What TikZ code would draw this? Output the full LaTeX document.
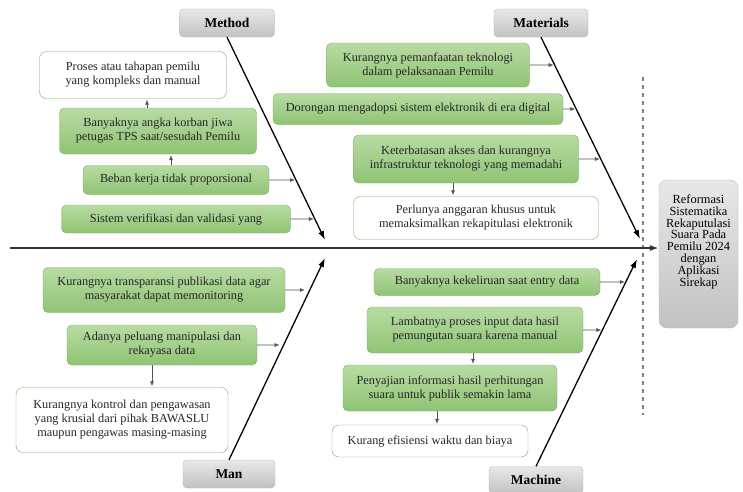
\documentclass[tikz,border=0pt]{standalone}
\usepackage{fontspec}
\setmainfont{Liberation Serif}
\usetikzlibrary{arrows.meta, calc}

\definecolor{leafTop}{RGB}{184,219,163}
\definecolor{leafBot}{RGB}{143,196,116}
\definecolor{leafLine}{RGB}{120,172,92}
\definecolor{twigGray}{RGB}{85,85,85}

\tikzset{
    cause/.style={draw=leafLine, rounded corners=5pt, top color=leafTop, bottom color=leafBot,
        align=center, inner sep=2pt, text=black!85, font=\fontsize{12.3}{14}\selectfont},
    outcome/.style={draw=leafLine, rounded corners=7pt, fill=white,
        align=center, inner sep=2pt, text=black!85, font=\fontsize{12.3}{14}\selectfont},
    category/.style={draw=gray!55, rounded corners=4pt, top color=gray!18, bottom color=gray!48,
        minimum height=28, font=\fontsize{13.5}{15}\selectfont\bfseries},
    bone/.style={-{Latex[length=9pt, width=6pt]}, line width=1.3pt},
    twig/.style={-{Latex[length=5pt, width=4pt]}, draw=twigGray, line width=0.6pt, shorten >=1pt},
}

\begin{document}
\begin{tikzpicture}[x=1pt, y=-1pt]
\useasboundingbox (0,0) rectangle (743,491);

% Head
\node[category, font=\fontsize{12.4}{11.8}\selectfont, align=center, rounded corners=8pt,
    minimum width=79, minimum height=148, text depth=27pt] (head) at (698.5,254)
    {Reformasi\\Sistematika\\Rekaputulasi\\Suara Pada\\Pemilu 2024\\dengan\\Aplikasi\\Sirekap};

% Categories
\node[category, minimum width=95] (method) at (227,23) {Method};
\node[category, minimum width=94] (materials) at (541,23) {Materials};
\node[category, minimum width=92] (man) at (229,474) {Man};
\node[category, minimum width=94, minimum height=27] (machine) at (536,480) {Machine};

% Spine and bones
\coordinate (tail) at (10,248);
\coordinate (mTip) at (325,240);
\coordinate (matTip) at (640,239);
\coordinate (manTip) at (325,258);
\coordinate (macTip) at (637,259);
\coordinate (cutTop) at (643,77);
\coordinate (cutBot) at (643,415);

\draw[gray, line width=1.3pt, dash pattern=on 4pt off 4pt] (cutTop) -- (cutBot);
\draw[bone, draw=black!80, line width=1.6pt] (tail) -- (tail -| head.west);
\draw[bone] (method.south) -- (mTip);
\draw[bone] (materials.south) -- (matTip);
\draw[bone] (man.north) -- (manTip);
\draw[bone] (machine.north) -- (macTip);

%% Method
\node[outcome, minimum width=187, minimum height=47] (proses) at (133,75)
    {Proses atau tahapan pemilu\\yang kompleks dan manual};
\node[cause, minimum width=197, minimum height=46] (korban) at (158,131)
    {Banyaknya angka korban jiwa\\petugas TPS saat/sesudah Pemilu};
\node[cause, minimum width=186, minimum height=29] (beban) at (176,180)
    {Beban kerja tidak proporsional};
\node[cause, minimum width=229, minimum height=28] (sistem) at (176,219)
    {Sistem verifikasi dan validasi yang};

\draw[twig] ([xshift=-11pt]korban.north) -- ([xshift=-11pt]korban.north |- proses.south);
\draw[twig] ([xshift=-5pt]beban.north) -- ([xshift=-5pt]beban.north |- korban.south);
\draw[twig] (beban.east) -- (intersection of beban.east--beban.west and method.south--mTip);
\draw[twig] (sistem.east) -- (intersection of sistem.east--sistem.west and method.south--mTip);

%% Materials
\node[cause, minimum width=203, minimum height=44] (pemanfaatan) at (428,65)
    {Kurangnya pemanfaatan teknologi\\dalam pelaksanaan Pemilu};
\node[cause, minimum width=290, minimum height=31] (dorongan) at (418,109)
    {Dorongan mengadopsi sistem elektronik di era digital};
\node[cause, minimum width=225, minimum height=48] (keterbatasan) at (466,159)
    {Keterbatasan akses dan kurangnya\\infrastruktur teknologi yang memadahi};
\node[outcome, minimum width=245, minimum height=43] (anggaran) at (476,218)
    {Perlunya anggaran khusus untuk\\memaksimalkan rekapitulasi elektronik};

\draw[twig] (pemanfaatan.east) -- (intersection of pemanfaatan.east--pemanfaatan.west and materials.south--matTip);
\draw[twig] (dorongan.east) -- (intersection of dorongan.east--dorongan.west and materials.south--matTip);
\draw[twig] (keterbatasan.east) -- (intersection of keterbatasan.east--keterbatasan.west and materials.south--matTip);
\draw[twig] ([xshift=-13pt]keterbatasan.south) -- ([xshift=-13pt]keterbatasan.south |- anggaran.north);

%% Man
\node[cause, minimum width=242, minimum height=45] (transparansi) at (164,290)
    {Kurangnya transparansi publikasi data agar\\masyarakat dapat memonitoring};
\node[cause, minimum width=190, minimum height=40] (peluang) at (162,345)
    {Adanya peluang manipulasi dan\\rekayasa data};
\node[outcome, minimum width=212, minimum height=65] (kontrol) at (122,420)
    {Kurangnya kontrol dan pengawasan\\yang krusial dari pihak BAWASLU\\maupun pengawas masing-masing};

\draw[twig, shorten >=5pt] (transparansi.east) -- (intersection of transparansi.east--transparansi.west and man.north--manTip);
\draw[twig, shorten >=4pt] (peluang.east) -- (intersection of peluang.east--peluang.west and man.north--manTip);
\draw[twig] ([xshift=-10pt]peluang.south) -- ([xshift=-10pt]peluang.south |- kontrol.north);

%% Machine
\node[cause, minimum width=226, minimum height=27] (kekeliruan) at (487,282)
    {Banyaknya kekeliruan saat entry data};
\node[cause, minimum width=216, minimum height=46] (lambatnya) at (475,330)
    {Lambatnya proses input data hasil\\pemungutan suara karena manual};
\node[cause, minimum width=214, minimum height=46] (penyajian) at (450,388)
    {Penyajian informasi hasil perhitungan\\suara untuk publik semakin lama};
\node[outcome, minimum width=196, minimum height=32] (efisiensi) at (430,441)
    {Kurang efisiensi waktu dan biaya};

\draw[twig] (kekeliruan.east) -- (intersection of kekeliruan.east--kekeliruan.west and machine.north--macTip);
\draw[twig] (lambatnya.east) -- (intersection of lambatnya.east--lambatnya.west and machine.north--macTip);
\draw[twig] ([xshift=-2pt]lambatnya.south) -- ([xshift=-2pt]lambatnya.south |- penyajian.north);
\draw[twig] ([xshift=-13pt]penyajian.south) -- ([xshift=-13pt]penyajian.south |- efisiensi.north);
\end{tikzpicture}
\end{document}
